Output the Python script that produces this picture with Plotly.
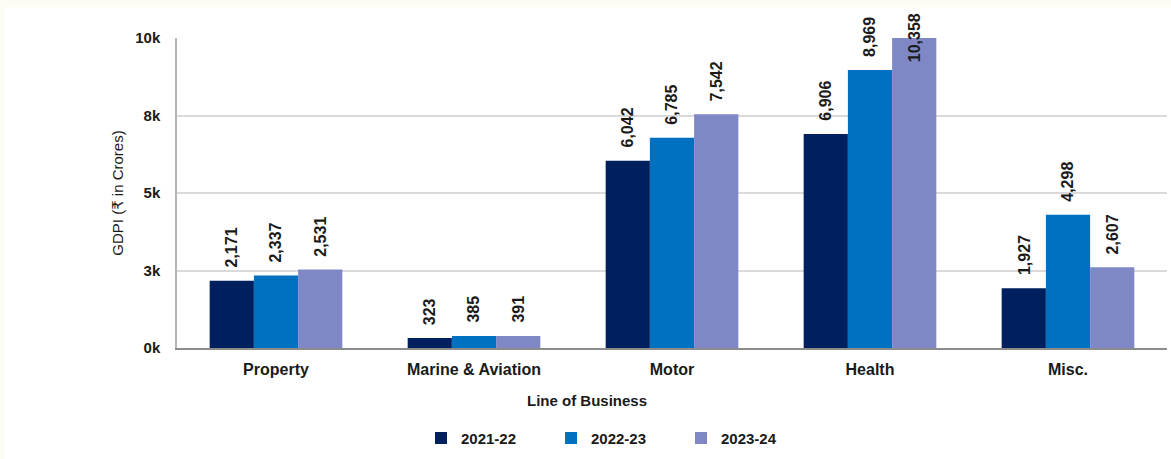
import plotly.graph_objects as go

# Gross Direct Premium Income by line of business (₹ in Crores)
categories = ["Property", "Marine & Aviation", "Motor", "Health", "Misc."]
years = ["2021-22", "2022-23", "2023-24"]
gdpi_2021_22 = [2171, 323, 6042, 6906, 1927]
gdpi_2022_23 = [2337, 385, 6785, 8969, 4298]
gdpi_2023_24 = [2531, 391, 7542, 10358, 2607]
series = [gdpi_2021_22, gdpi_2022_23, gdpi_2023_24]
colors = ["#001f5e", "#0070c0", "#7f88c4"]

y_tickvals = [0, 2500, 5000, 7500, 10000]
y_ticktext = ["0k", "3k", "5k", "8k", "10k"]
y_max = 10000

FONT = "Liberation Sans, Arial, DejaVu Sans, sans-serif"
TEXT = "#1a1a1a"

W, H = 1171, 459
L, R, T, B = 177, 4, 38, 108
PW, PH = W - L - R, H - T - B


def px_x(px):
    return (px - L) / PW


def px_y(py):
    return (H - B - py) / PH


BARGAP = 0.33
bar_w = (1 - BARGAP) / len(series)

fig = go.Figure()
for name, vals, col in zip(years, series, colors):
    fig.add_trace(go.Bar(
        name=name, x=categories, y=vals,
        marker=dict(color=col, line=dict(width=0)),
    ))

# value labels, rotated, above each bar (kept inside the frame when clipped)
annotations = []
for j, vals in enumerate(series):
    for i, v in enumerate(vals):
        clipped = v > y_max
        annotations.append(dict(
            x=i + (j - 1) * bar_w, y=min(v, y_max), xref="x", yref="y",
            text=f"{v:,}", showarrow=False, textangle=-90,
            yanchor="middle" if clipped else "bottom",
            yshift=0 if clipped else 11,
            font=dict(family=FONT, size=16, color=TEXT, weight="bold"),
        ))

annotations.append(dict(
    x=px_x(587), y=px_y(404), xref="paper", yref="paper",
    text="<b>Line of Business</b>", showarrow=False,
    xanchor="center", yanchor="middle",
    font=dict(family=FONT, size=15, color=TEXT),
))

fig.update_layout(
    width=W, height=H,
    margin=dict(l=L, r=R, t=T, b=B, pad=0),
    paper_bgcolor="#fdfcf4",
    plot_bgcolor="rgba(0,0,0,0)",
    barmode="group", bargap=BARGAP, bargroupgap=0,
    font=dict(family=FONT, size=15, color=TEXT),
    annotations=annotations,
    shapes=[dict(
        type="rect", xref="paper", yref="paper", layer="below",
        x0=px_x(5), x1=px_x(W + 5), y0=px_y(H + 5), y1=px_y(7),
        fillcolor="white", line=dict(width=0),
    )],
    showlegend=True,
    legend=dict(
        orientation="h", x=px_x(421), xanchor="left",
        y=px_y(442), yanchor="middle",
        font=dict(family=FONT, size=15, color=TEXT, weight="bold"),
        itemwidth=30, entrywidth=85, entrywidthmode="pixels",
        bgcolor="rgba(0,0,0,0)", traceorder="normal",
    ),
    xaxis=dict(
        showline=True, linecolor="#8c8c8c", linewidth=1.5,
        showgrid=False, ticks="", ticklabelstandoff=6,
        tickfont=dict(family=FONT, size=16, color=TEXT, weight="bold"),
    ),
    yaxis=dict(
        range=[0, y_max], tickvals=y_tickvals, ticktext=y_ticktext,
        showline=True, linecolor="#b5b5b5", linewidth=1.5,
        showgrid=True, gridcolor="#dadada", gridwidth=1.5,
        zeroline=False, ticks="", ticklabelstandoff=12,
        tickfont=dict(family=FONT, size=15, color=TEXT, weight="bold"),
        title=dict(text="GDPI (₹ in Crores)", standoff=8,
                   font=dict(family=FONT, size=15, color=TEXT)),
    ),
)

fig.write_html("out.html")
